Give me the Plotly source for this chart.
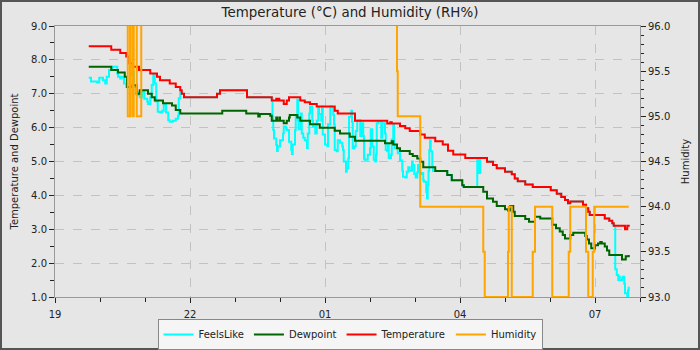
import pandas as pd
import plotly.graph_objects as go

# minutes after 19:00 for each reading, and values
temp_min = [45, 75, 87, 95, 99, 104, 112, 127, 136, 140, 153, 161, 167, 169, 172, 216, 220, 256,
            289, 295, 296, 297, 299, 305, 309, 312, 327, 333, 340, 349, 373, 377, 400, 443, 447, 449,
            460, 467, 473, 487, 493, 507, 517, 524, 531, 547, 576, 584, 589, 600, 609, 613, 617, 627,
            637, 661, 669, 675, 680, 684, 687, 704, 708, 711, 713, 733, 739, 743, 745, 760, 763, 765]
temp_val = [8.4, 8.3, 8.2, 8.1, 7.9, 7.8, 7.7, 7.6, 7.5, 7.4, 7.3, 7.2, 7.1, 7.0, 6.9, 7.0, 7.1, 6.9,
            6.8, 6.85, 6.8, 6.85, 6.8, 6.7, 6.8, 6.9, 6.8, 6.75, 6.7, 6.62, 6.5, 6.42, 6.2, 6.12, 6.16, 6.12,
            6.05, 5.98, 5.9, 5.8, 5.7, 5.6, 5.5, 5.32, 5.21, 5.1, 4.99, 4.9, 4.8, 4.7, 4.62, 4.5, 4.42, 4.32,
            4.25, 4.15, 4.05, 3.95, 3.86, 3.77, 3.82, 3.72, 3.62, 3.52, 3.42, 3.32, 3.25, 3.18, 3.1, 3.0, 3.1, 3.13]

dew_min = [45, 75, 84, 93, 96, 103, 109, 113, 124, 129, 133, 144, 156, 161, 167, 223, 255, 271, 273,
           287, 289, 295, 296, 299, 300, 305, 309, 312, 313, 323, 327, 340, 353, 373, 380, 393, 400,
           440, 449, 451, 456, 460, 473, 477, 483, 487, 491, 507, 523, 529, 543, 545, 571, 576, 584,
           589, 600, 604, 607, 611, 613, 627, 632, 640, 647, 663, 668, 673, 677, 680, 687, 691, 707,
           709, 712, 715, 720, 724, 727, 729, 733, 736, 739, 756, 761, 765]
dew_val = [7.8, 7.7, 7.63, 7.5, 7.2, 7.25, 7.0, 7.1, 7.0, 6.9, 6.8, 6.72, 6.65, 6.52, 6.42, 6.5, 6.42, 6.33, 6.4,
           6.35, 6.2, 6.3, 6.2, 6.3, 6.2, 6.13, 6.2, 6.3, 6.37, 6.3, 6.2, 6.1, 6.0, 5.91, 5.83, 5.73, 5.61,
           5.54, 5.6, 5.5, 5.39, 5.31, 5.22, 5.16, 5.09, 4.99, 4.83, 4.72, 4.6, 4.45, 4.3, 4.25, 4.11, 3.91, 3.81,
           3.69, 3.59, 3.55, 3.69, 3.52, 3.39, 3.3, 3.22, 3.37, 3.32, 3.13, 3.03, 2.93, 2.83, 2.73, 2.83, 2.9, 2.8,
           2.7, 2.58, 2.44, 2.53, 2.58, 2.62, 2.58, 2.49, 2.37, 2.24, 2.11, 2.2, 2.24]

feels_min = [45, 48, 56, 59, 64, 67, 69, 72, 76, 77, 83, 84, 87, 89, 92, 95, 97, 100, 103, 104, 105, 109,
             111, 113, 116, 119, 123, 124, 127, 129, 131, 133, 135, 137, 140, 143, 145, 148, 151, 153, 157,
             161, 164, 165, 167, 169, 172, 216, 220, 256,
             289, 290, 291, 292, 295, 296, 297, 300, 304, 305, 308, 309, 312, 315, 316, 317, 320, 321, 323,
             324, 325, 328, 329, 331, 333, 336, 337, 339, 340, 343, 344, 347, 349, 351, 352, 355, 356, 357,
             360, 363, 364, 367, 369, 371, 372, 373, 376, 377, 380, 383, 384, 385, 388, 389, 391, 392, 395,
             396, 397, 399, 401, 403, 405, 407, 409, 411, 412, 413, 416, 417, 420, 421, 423, 425, 427, 428,
             429, 431, 433, 435, 436, 437, 440, 441, 443, 444, 445, 448, 449, 451, 452, 453, 456, 457, 460,
             463, 464, 467, 469, 471, 473, 476, 477, 479, 481, 483, 484, 485, 487, 489, 491, 492, 495, 496,
             497, 498, 499, 500, 501, 503, 504, 523, 529, 543, 545,
             563, 565, 567, 576, 584, 589, 600, 609, 613, 617, 627, 637, 661, 669, 675, 680, 684, 687, 704,
             708, 711, 713, 733, 739, 743, 745, 747, 749, 751, 752, 753, 756, 757, 759, 760, 763, 764, 765]
feels_val = [7.47, 7.36, 7.33, 7.47, 7.4, 7.3, 7.5, 7.7, 7.78, 7.8, 7.6, 7.5, 7.45, 7.5, 7.3, 7.2, 7.2, 7.55,
             7.85, 7.65, 7.2, 6.96, 7.05, 6.9, 7.05, 6.85, 6.77, 6.7, 6.9, 7.26, 7.55, 7.3, 6.77, 6.47, 6.45,
             6.5, 6.67, 6.45, 6.22, 6.17, 6.2, 6.26, 6.35, 6.87, 7.06, 7.0, 6.9, 7.0, 7.1, 6.9,
             6.87, 6.32, 5.93, 5.68, 5.49, 5.31, 5.45, 5.63, 5.83, 6.03, 5.98, 5.93, 5.58, 5.34, 5.22, 5.5,
             5.93, 6.32, 6.82, 6.2, 5.95, 6.42, 5.83, 5.7, 5.63, 5.4, 5.83, 6.42, 6.62, 6.2, 6.03, 5.83, 6.2,
             6.6, 6.4, 6.2, 6.62, 5.8, 5.5, 5.45, 6.1, 6.62, 6.6, 6.37, 6.1, 5.34, 5.3, 5.63, 5.55, 5.44, 5.34,
             5.0, 4.7, 4.8, 5.09, 6.32, 6.5, 6.17, 5.39, 5.45, 5.9, 6.22, 6.22, 5.75, 6.13, 5.75, 5.09, 5.05,
             5.05, 5.2, 5.39, 5.95, 5.44, 5.05, 5.0, 5.2, 6.13, 6.18, 6.18, 5.7, 6.13, 6.13, 5.83, 5.34, 5.3,
             5.5, 5.1, 5.2, 5.65, 6.1, 5.5, 5.39, 5.39, 5.24, 5.03, 4.73, 4.55, 4.53, 4.7, 4.83, 4.73, 5.0,
             4.9, 4.63, 4.53, 4.68, 4.9, 4.7, 4.63, 4.66, 4.45, 4.4, 4.1, 3.91, 4.3, 4.73, 5.34, 5.63, 5.3,
             4.85, 4.72, 4.6, 4.45, 4.3, 4.25,
             5.1, 4.66, 5.1, 4.99, 4.9, 4.8, 4.7, 4.62, 4.5, 4.42, 4.32, 4.25, 4.15, 4.05, 3.95, 3.86, 3.77,
             3.82, 3.72, 3.62, 3.52, 3.42, 3.32, 3.25, 3.18, 3.1, 1.82, 1.65, 1.5, 1.6, 1.5, 1.55, 1.6, 1.4,
             1.11, 1.03, 1.2, 1.3]

hum_min = [45, 97, 100, 103, 105, 109, 115, 456, 457, 487, 571, 573, 604, 605, 609, 637, 640, 663,
           685, 687, 708, 711, 717, 719, 765]
hum_val = [97.0, 95.0, 97.0, 95.0, 97.0, 95.0, 97.0, 95.5, 95.0, 94.0, 93.5, 93.0, 93.5, 94.0, 93.0,
           93.5, 94.0, 93.0, 93.5, 94.0, 93.5, 93.0, 93.5, 94.0, 94.0]

x_ticks = ["19", "22", "01", "04", "07"]

base = pd.Timestamp("2024-01-01 19:00")


def to_t(mins):
    return [base + pd.Timedelta(minutes=m) for m in mins]


fig = go.Figure()
fig.add_trace(go.Scatter(x=to_t(feels_min), y=feels_val, name="FeelsLike", mode="lines",
                         line=dict(color="#00ffff", width=2, shape="hv")))
fig.add_trace(go.Scatter(x=to_t(dew_min), y=dew_val, name="Dewpoint", mode="lines",
                         line=dict(color="#006400", width=2, shape="hv")))
fig.add_trace(go.Scatter(x=to_t(temp_min), y=temp_val, name="Temperature", mode="lines",
                         line=dict(color="#ff0000", width=2, shape="hv")))
fig.add_trace(go.Scatter(x=to_t(hum_min), y=hum_val, name="Humidity", mode="lines", yaxis="y2",
                         line=dict(color="#ffa500", width=2, shape="hv")))

tickvals = [base + pd.Timedelta(hours=3 * i) for i in range(len(x_ticks))]
font = dict(family="DejaVu Sans", size=10, color="#222222")

fig.update_layout(
    width=700, height=350,
    margin=dict(l=55, r=60, t=26, b=53, autoexpand=False),
    paper_bgcolor="#e6e6e6", plot_bgcolor="#e6e6e6",
    font=font,
    title=dict(text="Temperature (°C) and Humidity (RH%)", x=0.5, xref="container",
               y=1 - 12 / 350, yanchor="middle", font=dict(family="DejaVu Sans", size=13.4, color="#222222")),
    showlegend=True,
    legend=dict(orientation="h", xref="container", yref="container", x=0.5, xanchor="center",
                y=0.0, yanchor="bottom", bgcolor="#f5f5f5", bordercolor="#888888", borderwidth=1,
                itemwidth=30,
                font=dict(family="DejaVu Sans", size=10, color="#222222"), traceorder="normal"),
    xaxis=dict(type="date", range=[base, base + pd.Timedelta(hours=13)],
               tickvals=tickvals, ticktext=x_ticks, ticks="outside", ticklen=5, tickcolor="#222",
               showline=True, linecolor="#999999", mirror=True, linewidth=1,
               showgrid=True, gridcolor="#c2c2c2", griddash="dash", gridwidth=1, zeroline=False,
               ticklabelstandoff=3,
               minor=dict(dtick=3600000, tick0=base, ticks="outside", ticklen=4, tickcolor="#222",
                          showgrid=False)),
    yaxis=dict(range=[1, 9], dtick=1, tickformat=".1f", ticks="outside", ticklen=5, tickcolor="#222",
               showline=True, linecolor="#999999", linewidth=1, zeroline=False,
               showgrid=True, gridcolor="#c2c2c2", griddash="dash", gridwidth=1,
               title=dict(text="Temperature and Dewpoint", standoff=10,
                          font=dict(family="DejaVu Sans", size=10, color="#222222")),
               minor=dict(dtick=0.5, ticks="outside", ticklen=4, tickcolor="#222", showgrid=False)),
    yaxis2=dict(range=[93, 96], dtick=0.5, tickformat=".1f", overlaying="y", side="right",
                ticks="outside", ticklen=5, tickcolor="#222", showline=True, linecolor="#999999",
                linewidth=1, showgrid=False, zeroline=False,
                title=dict(text="Humidity", standoff=12,
                           font=dict(family="DejaVu Sans", size=10, color="#222222")),
                minor=dict(dtick=0.1, ticks="outside", ticklen=3, tickcolor="#222", showgrid=False)),
)

# outer frame of the image
fig.add_shape(type="rect", xref="paper", yref="paper",
              x0=-55 / 585, x1=1 + 60 / 585, y0=-53 / 271, y1=1 + 26 / 271,
              line=dict(color="#555555", width=4), fillcolor="rgba(0,0,0,0)", layer="above")

fig.write_html("out.html")
